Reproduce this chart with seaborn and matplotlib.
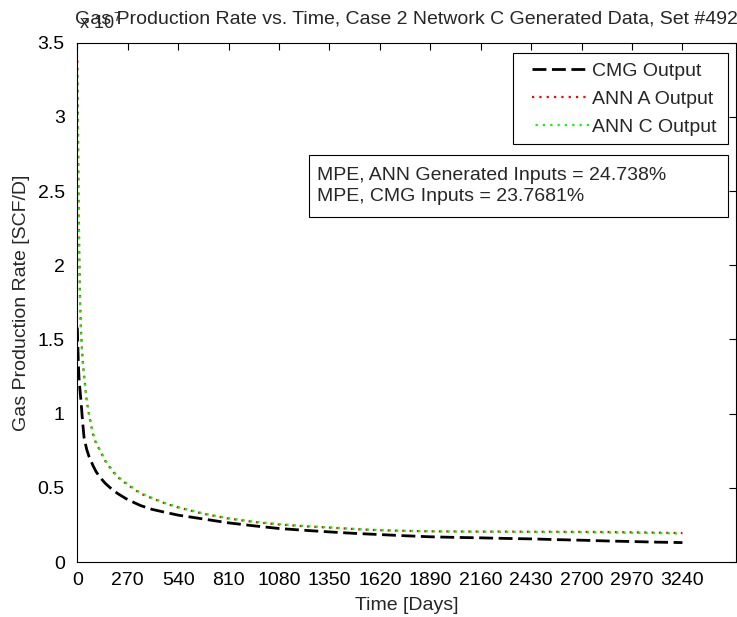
import numpy as np
import pandas as pd
import matplotlib
matplotlib.use("Agg")
import matplotlib.pyplot as plt
from matplotlib.patches import Rectangle
import seaborn as sns

# ==========================================
# DATA (rates in units of 1e7 SCF/D)
# ==========================================

time_days = [0, 3, 6, 10, 15, 20, 28, 36, 50, 63, 84, 100, 122, 150, 190, 218,
             270, 340, 400, 470, 540, 675, 810, 945, 1080, 1215, 1350, 1485,
             1620, 1755, 1890, 2025, 2160, 2295, 2430, 2565, 2700, 2835, 2970,
             3105, 3240]

cmg_output = [1.58, 1.45, 1.32, 1.22, 1.15, 1.08, 0.95, 0.84, 0.76, 0.71, 0.65,
              0.61, 0.57, 0.53, 0.485, 0.46, 0.42, 0.38, 0.355, 0.335, 0.316,
              0.29, 0.264, 0.244, 0.226, 0.214, 0.203, 0.193, 0.185, 0.177,
              0.17, 0.166, 0.163, 0.159, 0.156, 0.151, 0.147, 0.142, 0.138,
              0.134, 0.131]

ann_a_output = [3.38, 3.0, 2.55, 2.1, 1.75, 1.55, 1.37, 1.26, 1.09, 0.99, 0.86,
                0.8, 0.75, 0.68, 0.61, 0.57, 0.52, 0.46, 0.43, 0.395, 0.368,
                0.325, 0.293, 0.27, 0.253, 0.241, 0.232, 0.222, 0.214, 0.21,
                0.207, 0.206, 0.205, 0.205, 0.204, 0.204, 0.203, 0.202, 0.2,
                0.198, 0.195]

ann_c_output = [3.35, 2.98, 2.52, 2.08, 1.74, 1.54, 1.37, 1.26, 1.1, 1.0, 0.87,
                0.81, 0.755, 0.685, 0.615, 0.575, 0.525, 0.465, 0.432, 0.398,
                0.37, 0.327, 0.295, 0.272, 0.255, 0.243, 0.233, 0.223, 0.215,
                0.21, 0.207, 0.205, 0.204, 0.203, 0.202, 0.201, 0.2, 0.199,
                0.197, 0.195, 0.192]

x_ticks = list(range(0, 3241, 270))
y_ticks = [0, 0.5, 1, 1.5, 2, 2.5, 3, 3.5]
y_tick_labels = ["0", "0.5", "1", "1.5", "2", "2.5", "3", "3.5"]

title = "Gas Production Rate vs. Time, Case 2 Network C Generated Data, Set #492"
mpe_text = "MPE, ANN Generated Inputs = 24.738%\nMPE, CMG Inputs = 23.7681%"

# ==========================================
# STYLE
# ==========================================

sns.set_style("white")
plt.rcParams["font.family"] = ["Liberation Sans", "DejaVu Sans"]
plt.rcParams["mathtext.default"] = "regular"
FS = 14

df = pd.DataFrame({
    "Time": time_days,
    "CMG": cmg_output,
    "ANN_A": ann_a_output,
    "ANN_C": ann_c_output,
})

# ==========================================
# PLOT
# ==========================================

fig = plt.figure(figsize=(7.37, 6.17), dpi=100)
ax = fig.add_axes([0.1049, 0.0891, 0.8933, 0.8417])

sns.lineplot(data=df, x="Time", y="CMG", ax=ax, color="black", lw=2.0,
             linestyle=(0, (5, 2)), label="CMG Output")
sns.lineplot(data=df, x="Time", y="ANN_A", ax=ax, color="#ff0000", lw=1.6,
             linestyle=(0, (1, 2.3)), label="ANN A Output")
sns.lineplot(data=df, x="Time", y="ANN_C", ax=ax, color="#00ff00", lw=1.6,
             linestyle=(1.7, (1, 2.3)), label="ANN C Output")

ax.set_xlim(0, 3525)
ax.set_ylim(0, 3.5)
ax.set_xticks(x_ticks)
ax.set_xticklabels([str(t) for t in x_ticks], fontsize=FS)
ax.set_yticks(y_ticks)
ax.set_yticklabels(y_tick_labels, fontsize=FS)
ax.tick_params(direction="in", length=5, width=0.8, top=True, right=True,
               colors="black")
ax.tick_params(axis="x", pad=7)
ax.tick_params(axis="y", pad=9)
for side in ax.spines.values():
    side.set_color("black")
    side.set_linewidth(0.8)

ax.set_xlabel("Time [Days]", fontsize=FS)
ax.set_ylabel("Gas Production Rate [SCF/D]", fontsize=FS)
ax.xaxis.set_label_coords(0.5, -0.068)
ax.yaxis.set_label_coords(-0.072, 0.5)
ax.set_title(title, fontsize=FS, pad=14)

ax.text(0.003, 1.018, r"x 10$^7$", transform=ax.transAxes, fontsize=FS - 1,
        ha="left", va="bottom")

# legend: frame drawn as a fixed box like the MATLAB one
ax.add_patch(Rectangle((513 / 737, 1 - 144 / 617), 215 / 737, 91 / 617,
                       transform=fig.transFigure, fc="white", ec="black",
                       lw=0.8, zorder=6, clip_on=False))
leg = ax.legend(loc="upper left", bbox_to_anchor=(532 / 737, 1 - 62 / 617),
                bbox_transform=fig.transFigure, borderaxespad=0, borderpad=0,
                fontsize=FS, frameon=False, handlelength=3.0,
                handletextpad=0.1, labelspacing=0.55)
leg.set_zorder(7)

# MPE text box
ax.add_patch(Rectangle((309 / 737, 1 - 217 / 617), 419 / 737, 62 / 617,
                       transform=fig.transFigure, fc="white", ec="black",
                       lw=0.8, zorder=6, clip_on=False))
ax.text(317 / 737, 1 - 186 / 617, mpe_text, transform=fig.transFigure,
        fontsize=FS, ha="left", va="center", linespacing=1.25, zorder=7)

plt.savefig("out.png", dpi=100)
